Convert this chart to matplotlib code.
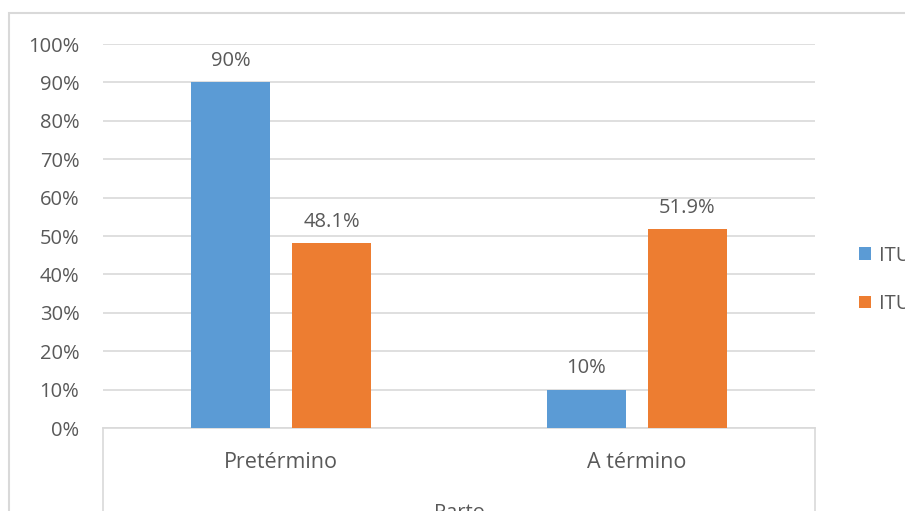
# Parto vs ITU - bar chart
import numpy as np
import matplotlib.pyplot as plt
from matplotlib.patches import Rectangle
from matplotlib.lines import Line2D

plt.rcParams['font.family'] = ['Open Sans', 'DejaVu Sans']

# Data
categories = ['Pretérmino', 'A término']
itu_si = [0.90, 0.10]
itu_no = [0.481, 0.519]
labels_si = ['90%', '10%']
labels_no = ['48.1%', '51.9%']
series_names = ['ITU sí', 'ITU no']
yticks = np.arange(0, 1.01, 0.1)

blue = '#5B9BD5'
orange = '#ED7D31'
txt = '#595959'
grid = '#D9D9D9'
fs = 14.5

W, H = 905, 511
fig = plt.figure(figsize=(W / 100, H / 100), dpi=100)
ax = fig.add_axes([103 / W, 1 - 428 / H, (815 - 103) / W, (428 - 44) / H])

# outer chart border (cropped on right and bottom)
fig.patches.append(Rectangle((9 / W, -0.2), 2.0, 1.2 - 13 / H, transform=fig.transFigure,
                             fill=False, edgecolor=grid, linewidth=1.5))

x = np.arange(len(categories))
bw = 0.222
off = 0.142
b1 = ax.bar(x - off, itu_si, bw, color=blue, label=series_names[0], zorder=3)
b2 = ax.bar(x + off, itu_no, bw, color=orange, label=series_names[1], zorder=3)

for bars, labs in [(b1, labels_si), (b2, labels_no)]:
    for r, s in zip(bars, labs):
        ax.annotate(s, (r.get_x() + r.get_width() / 2, r.get_height()),
                    xytext=(0, 8), textcoords='offset points', ha='center', va='bottom',
                    fontsize=fs, color=txt)

ax.set_xlim(-0.5, 1.5)
ax.set_ylim(0, 1.0)
ax.set_yticks(yticks)
ax.set_yticklabels(['%d%%' % round(v * 100) for v in yticks])
ax.set_xticks(x)
ax.set_xticklabels(categories)
ax.tick_params(axis='y', length=0, pad=17, labelsize=fs, labelcolor=txt)
ax.tick_params(axis='x', length=0, pad=17, labelsize=15.5, labelcolor=txt)
ax.yaxis.grid(True, color=grid, linewidth=1.2, zorder=0)
for s in ['top', 'right', 'left']:
    ax.spines[s].set_visible(False)
ax.spines['bottom'].set_color(grid)
ax.spines['bottom'].set_linewidth(1.2)

# category axis box lines
for xx in [0, 1]:
    ax.add_line(Line2D([xx, xx], [0, -0.3], transform=ax.transAxes, color=grid,
                       linewidth=1.2, clip_on=False))

fig.text((103 + 815) / 2 / W, 1 - 503 / H, 'Parto', ha='center', va='top',
         fontsize=fs, color=txt)

leg = ax.legend(loc='center left', bbox_to_anchor=(841 / W, 1 - 280 / H),
                bbox_transform=fig.transFigure, frameon=False, fontsize=fs,
                labelcolor=txt, handlelength=0.6, handleheight=0.6,
                handletextpad=0.4, labelspacing=1.4)

plt.savefig('out.png', dpi=100)
